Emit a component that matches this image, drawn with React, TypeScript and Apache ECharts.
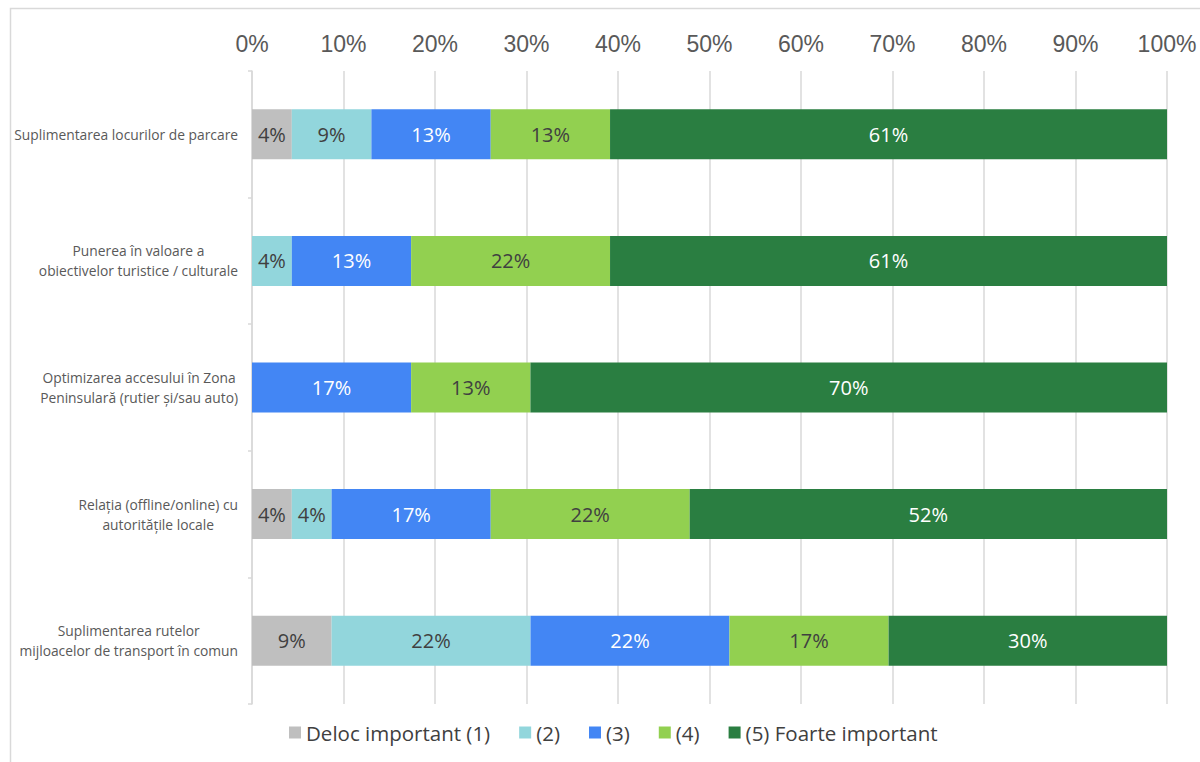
import React, { useEffect, useRef } from "react";
import * as echarts from "echarts";

const categories = [
  "Suplimentarea locurilor de parcare",
  "Punerea în valoare a\nobiectivelor turistice / culturale",
  "Optimizarea accesului în Zona\nPeninsulară (rutier și/sau auto)",
  "Relația (offline/online) cu\nautoritățile locale",
  "Suplimentarea rutelor\nmijloacelor de transport în comun",
];

const seriesNames = [
  "Deloc important (1)",
  "(2)",
  "(3)",
  "(4)",
  "(5) Foarte important",
];

// percentages per category, in category order
const s1 = [4.35, 0, 0, 4.35, 8.7];
const s2 = [8.7, 4.35, 0, 4.35, 21.74];
const s3 = [13.04, 13.04, 17.39, 17.39, 21.74];
const s4 = [13.04, 21.74, 13.04, 21.74, 17.39];
const s5 = [60.87, 60.87, 69.57, 52.17, 30.43];

const seriesValues = [s1, s2, s3, s4, s5];
const colors = ["#BFBFBF", "#92D6DC", "#4386F4", "#92D050", "#2A7E41"];
const labelColors = ["#404040", "#404040", "#ffffff", "#404040", "#ffffff"];

const xTicks = [0, 10, 20, 30, 40, 50, 60, 70, 80, 90, 100];

export default function App() {
  const ref = useRef<HTMLDivElement>(null);
  useEffect(() => {
    if (!ref.current) return;
    const chart = echarts.init(ref.current, null, { renderer: "svg" });
    chart.setOption({
      animation: false,
      backgroundColor: "#ffffff",
      graphic: [
        {
          type: "rect",
          shape: { x: 10.5, y: 8.5, width: 1400, height: 1000 },
          style: { fill: "none", stroke: "#d9d9d9", lineWidth: 1.5 },
          silent: true,
        },
      ],
      grid: { left: 252, right: 33, top: 71, bottom: 58, containLabel: false },
      legend: {
        left: 284,
        top: 717,
        itemWidth: 12,
        itemHeight: 12,
        itemGap: 29,
        icon: "rect",
        textStyle: { fontFamily: "Open Sans", fontSize: 20.5, color: "#404040" },
        data: seriesNames,
      },
      xAxis: {
        type: "value",
        position: "top",
        min: xTicks[0],
        max: xTicks[xTicks.length - 1],
        interval: 10,
        axisLine: { show: false },
        axisTick: { show: false },
        axisLabel: {
          formatter: "{value}%",
          fontFamily: "Liberation Sans",
          fontSize: 23,
          color: "#595959",
          margin: 16,
        },
        splitLine: { show: true, lineStyle: { color: "#d9d9d9", width: 1.5 } },
      },
      yAxis: {
        type: "category",
        inverse: true,
        data: categories,
        axisLine: { show: true, lineStyle: { color: "#d9d9d9", width: 1.5 } },
        axisTick: { show: true, length: 4, lineStyle: { color: "#d9d9d9", width: 1.5 } },
        axisLabel: {
          margin: 14,
          color: "#595959",
          fontFamily: "Open Sans",
          fontSize: 13.8,
          lineHeight: 20,
          formatter: (v: string) =>
            v
              .split("\n")
              .map((l) => `{c|${l}}`)
              .join("\n"),
          rich: {
            c: {
              align: "center",
              color: "#595959",
              fontFamily: "Open Sans",
              fontSize: 13.8,
              lineHeight: 20,
            },
          },
        },
      },
      series: seriesNames.map((name, i) => ({
        name,
        type: "bar",
        stack: "total",
        barWidth: 50,
        itemStyle: { color: colors[i] },
        label: {
          show: true,
          position: "inside",
          color: labelColors[i],
          fontFamily: "Open Sans",
          fontSize: 20,
          formatter: (p: any) => (p.value > 0 ? Math.round(p.value) + "%" : ""),
        },
        data: seriesValues[i],
      })),
    });
    return () => chart.dispose();
  }, []);
  return (
    <div
      ref={ref}
      style={{ position: "fixed", left: 0, top: 0, width: 1200, height: 762 }}
    />
  );
}
